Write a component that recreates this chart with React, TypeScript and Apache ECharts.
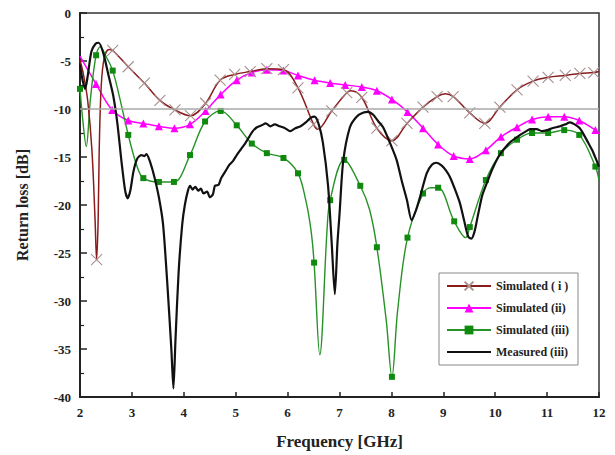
import React, { useEffect, useRef } from "react";
import * as echarts from "echarts";

// Frequency axis ticks (GHz) and return-loss ticks (dB)
const xTicks = [2, 12];
const yRange = [-40, 0];

// Simulated (i): points carrying markers, and curve-shaping points without markers
const simIMarked: number[][] = [
  [2.32, -25.7], [2.63, -3.9], [2.93, -5.6], [3.24, -7.3], [3.54, -9.1], [3.83, -10.1],
  [4.13, -10.7], [4.42, -9.4], [4.7, -7.0], [4.98, -6.4], [5.28, -6.1], [5.6, -5.8],
  [5.92, -5.9], [6.2, -7.8], [6.5, -11.6], [6.85, -10.2], [7.14, -8.3], [7.43, -8.8],
  [7.72, -12.0], [8.01, -13.3], [8.3, -11.5], [8.61, -9.8], [8.88, -8.7], [9.19, -8.7],
  [9.51, -10.4], [9.8, -11.5], [10.09, -9.8], [10.42, -8.0], [10.73, -7.1], [11.02, -6.7],
  [11.35, -6.5], [11.63, -6.3], [11.9, -6.2],
];
const simIExtra: number[][] = [
  [2.0, -4.9], [2.07, -6.5], [2.15, -9.2], [2.23, -14.3], [2.29, -21.5], [2.35, -21.5],
  [2.37, -14.3], [2.41, -7.5], [2.47, -4.6], [2.56, -3.8], [6.58, -12.1], [7.22, -8.1],
  [9.04, -8.4], [12.0, -6.1],
];

// Simulated (ii)
const simIIMarked: number[][] = [
  [2.31, -7.4], [2.62, -10.1], [2.93, -11.2], [3.22, -11.5], [3.52, -11.8], [3.82, -12.0],
  [4.12, -11.6], [4.42, -10.2], [4.71, -8.5], [5.02, -7.0], [5.31, -6.2], [5.6, -5.9],
  [5.92, -6.0], [6.2, -6.5], [6.52, -7.0], [6.82, -7.3], [7.11, -7.5], [7.43, -7.7],
  [7.72, -8.1], [8.01, -9.0], [8.31, -10.3], [8.61, -12.0], [8.9, -13.7], [9.2, -14.9],
  [9.51, -15.2], [9.82, -14.3], [10.11, -12.9], [10.42, -11.9], [10.71, -11.1], [11.02, -10.8],
  [11.33, -10.8], [11.62, -11.2], [11.93, -12.2],
];
const simIIExtra: number[][] = [[2.0, -4.5], [12.0, -12.5]];

// Simulated (iii)
const simIIIMarked: number[][] = [
  [2.0, -7.9], [2.31, -4.4], [2.63, -6.0], [2.93, -12.7], [3.22, -17.2], [3.52, -17.6],
  [3.81, -17.6], [4.12, -14.8], [4.41, -11.3], [4.71, -10.2], [5.02, -11.7], [5.31, -13.6],
  [5.6, -14.6], [5.92, -15.1], [6.2, -16.7], [6.51, -26.0], [6.82, -19.5], [7.09, -15.3],
  [7.4, -18.0], [7.72, -24.4], [8.01, -37.9], [8.31, -23.4], [8.61, -18.8], [8.9, -18.2],
  [9.21, -21.7], [9.51, -22.3], [9.82, -17.4], [10.11, -14.6], [10.42, -13.2], [10.71, -12.5],
  [11.02, -12.5], [11.33, -12.2], [11.62, -12.7], [11.93, -16.0],
];
const simIIIExtra: number[][] = [
  [2.06, -11.5], [2.12, -13.9], [2.2, -9.0], [2.39, -3.5], [2.5, -4.5], [2.78, -9.2],
  [3.1, -16.0], [6.35, -19.5], [6.45, -22.6], [6.62, -35.6], [6.76, -22.6], [7.58, -20.5],
  [7.9, -32.0], [8.12, -31.0], [8.76, -18.2], [9.43, -23.4], [12.0, -17.4],
];

// Measured (iii)
const measured: number[][] = [
  [2.0, -5.4], [2.05, -7.0], [2.1, -7.9], [2.15, -6.5], [2.22, -4.0], [2.3, -3.2], [2.36, -3.1],
  [2.45, -4.2], [2.55, -6.5], [2.64, -8.6], [2.72, -11.5], [2.8, -15.5], [2.87, -18.5],
  [2.92, -19.3], [2.97, -18.5], [3.03, -16.5], [3.1, -15.2], [3.18, -14.8], [3.24, -14.9],
  [3.28, -14.7], [3.35, -15.5], [3.43, -17.0], [3.52, -19.2], [3.6, -22.0], [3.68, -28.0],
  [3.76, -35.0], [3.8, -39.1], [3.84, -34.0], [3.9, -27.0], [3.97, -22.0], [4.02, -20.0],
  [4.08, -18.5], [4.12, -18.0], [4.17, -18.4], [4.22, -18.1], [4.28, -18.5], [4.33, -18.3],
  [4.38, -18.8], [4.45, -18.6], [4.5, -19.2], [4.56, -18.9], [4.6, -18.0], [4.67, -17.9],
  [4.72, -17.2], [4.8, -16.5], [4.88, -15.8], [4.95, -15.4], [5.02, -14.8], [5.1, -14.2],
  [5.18, -13.6], [5.26, -12.9], [5.33, -12.3], [5.41, -11.9], [5.5, -11.7], [5.58, -11.5],
  [5.67, -11.8], [5.75, -11.6], [5.85, -11.8], [5.95, -12.0], [6.05, -12.3], [6.15, -12.0],
  [6.25, -11.8], [6.35, -11.4], [6.45, -10.9], [6.52, -10.8], [6.6, -11.6], [6.68, -13.5],
  [6.78, -18.0], [6.85, -24.0], [6.91, -29.3], [6.96, -24.0], [7.0, -21.0], [7.07, -15.5],
  [7.2, -11.9], [7.33, -10.8], [7.45, -10.4], [7.55, -10.3], [7.65, -10.6], [7.75, -11.3],
  [7.84, -11.9], [7.97, -13.5], [8.1, -15.3], [8.2, -17.5], [8.3, -19.5], [8.39, -21.6],
  [8.47, -20.6], [8.55, -19.2], [8.68, -16.7], [8.78, -15.8], [8.87, -15.6], [8.97, -15.9],
  [9.05, -16.4], [9.13, -17.1], [9.22, -18.3], [9.32, -19.8], [9.4, -21.6], [9.48, -23.3],
  [9.54, -23.5], [9.6, -22.8], [9.67, -21.0], [9.75, -19.0], [9.84, -17.7], [9.95, -16.2],
  [10.05, -15.1], [10.15, -14.3], [10.3, -13.4], [10.48, -12.7], [10.6, -12.3], [10.67, -12.1],
  [10.8, -12.1], [10.9, -12.3], [11.0, -12.2], [11.1, -12.0], [11.25, -11.8], [11.35, -11.6],
  [11.44, -11.4], [11.53, -11.6], [11.63, -12.0], [11.72, -12.8], [11.8, -13.6], [11.87, -14.3],
  [11.94, -15.2], [12.0, -16.0],
];

const refLevel = -10;

function buildData(marked: number[][], extra: number[][]) {
  const pts = [
    ...marked.map((p) => ({ p, m: true })),
    ...extra.map((p) => ({ p, m: false })),
  ].sort((a, b) => a.p[0] - b.p[0]);
  return pts.map((o) => (o.m ? { value: o.p } : { value: o.p, symbol: "none" }));
}

const FONT = "Liberation Serif";

export default function App() {
  const ref = useRef<HTMLDivElement>(null);
  useEffect(() => {
    if (!ref.current) return;
    const chart = echarts.init(ref.current, null, { renderer: "svg" });
    chart.setOption({
      animation: false,
      backgroundColor: "#fff",
      grid: {
        left: 80,
        right: 16,
        top: 13,
        bottom: 58,
        show: true,
        borderColor: "#333",
        borderWidth: 1.5,
        backgroundColor: "transparent",
      },
      legend: {
        orient: "vertical",
        left: 439,
        top: 273,
        backgroundColor: "#fff",
        borderColor: "#888",
        borderWidth: 1,
        borderRadius: 0,
        padding: [7, 9, 7, 7],
        itemWidth: 44,
        itemHeight: 11,
        itemGap: 10,
        textStyle: { fontFamily: FONT, fontWeight: "bold", fontSize: 12, color: "#222" },
        data: [
          "Simulated ( i )",
          "Simulated (ii)",
          "Simulated (iii)",
          { name: "Measured (iii)", itemStyle: { opacity: 0 } },
        ],
      },
      xAxis: {
        type: "value",
        min: xTicks[0],
        max: xTicks[1],
        interval: 1,
        name: "Frequency [GHz]",
        nameLocation: "middle",
        nameGap: 36,
        nameTextStyle: { fontFamily: FONT, fontWeight: "bold", fontSize: 17, color: "#222" },
        axisLine: { show: true, onZero: false, lineStyle: { color: "#222", width: 2 } },
        axisTick: { show: true, inside: true, length: 5, lineStyle: { color: "#222", width: 1.5 } },
        axisLabel: { fontFamily: FONT, fontWeight: "bold", fontSize: 13, color: "#222", margin: 9 },
        splitLine: { show: false },
      },
      yAxis: {
        type: "value",
        min: yRange[0],
        max: yRange[1],
        interval: 5,
        name: "Return loss [dB]",
        nameLocation: "middle",
        nameGap: 50,
        nameTextStyle: { fontFamily: FONT, fontWeight: "bold", fontSize: 16, color: "#222" },
        axisLine: { show: true, onZero: false, lineStyle: { color: "#222", width: 2 } },
        axisTick: { show: true, inside: true, length: 7, lineStyle: { color: "#222", width: 1.5 } },
        minorTick: { show: true, splitNumber: 2, length: 4, lineStyle: { color: "#222", width: 1.2 } },
        axisLabel: { fontFamily: FONT, fontWeight: "bold", fontSize: 13, color: "#222", margin: 9 },
        splitLine: { show: false },
      },
      series: [
        {
          name: "Simulated ( i )",
          type: "line",
          smooth: 0.35,
          z: 3,
          data: buildData(simIMarked, simIExtra),
          symbol: "path://M0,0L10,10M10,0L0,10",
          symbolSize: 11,
          showSymbol: true,
          showAllSymbol: true,
          lineStyle: { color: "#8a1c1c", width: 1.5 },
          itemStyle: { color: "rgba(0,0,0,0)", borderColor: "#a98e8e", borderWidth: 1.1 },
          markLine: {
            silent: true,
            symbol: "none",
            label: { show: false },
            lineStyle: { color: "#a8a8a8", width: 1.6, type: "solid" },
            data: [{ yAxis: refLevel }],
          },
        },
        {
          name: "Simulated (ii)",
          type: "line",
          smooth: 0.35,
          z: 2,
          data: buildData(simIIMarked, simIIExtra),
          symbol: "triangle",
          symbolSize: 8,
          showSymbol: true,
          showAllSymbol: true,
          lineStyle: { color: "#ff00ff", width: 1.5 },
          itemStyle: { color: "#ff00ff" },
        },
        {
          name: "Simulated (iii)",
          type: "line",
          smooth: 0.35,
          z: 2,
          data: buildData(simIIIMarked, simIIIExtra),
          symbol: "rect",
          symbolSize: 6,
          showSymbol: true,
          showAllSymbol: true,
          lineStyle: { color: "#279227", width: 1.4 },
          itemStyle: { color: "#0f8a0f" },
        },
        {
          name: "Measured (iii)",
          type: "line",
          smooth: 0.25,
          z: 4,
          data: measured,
          symbol: "none",
          showSymbol: false,
          lineStyle: { color: "#111", width: 2.2 },
          itemStyle: { color: "#111" },
        },
      ],
    });
    return () => chart.dispose();
  }, []);
  return (
    <div
      ref={ref}
      style={{ position: "fixed", left: 0, top: 0, width: 615, height: 455, background: "#fff" }}
    />
  );
}
